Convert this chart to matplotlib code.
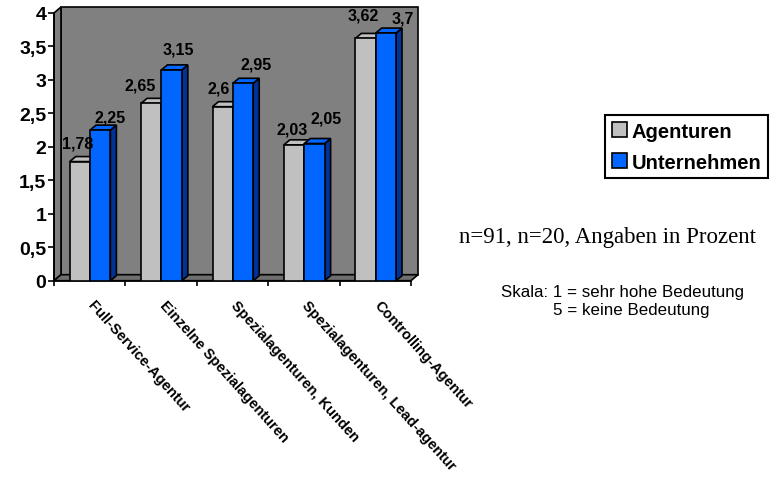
import matplotlib
matplotlib.use("Agg")
import matplotlib.pyplot as plt
from matplotlib.patches import Polygon, Patch
from matplotlib.transforms import ScaledTranslation

plt.rcParams['font.family'] = ['Liberation Sans', 'DejaVu Sans']

categories = ['Full-Service-Agentur', 'Einzelne Spezialagenturen',
              'Spezialagenturen, Kunden', 'Spezialagenturen, Lead-agentur',
              'Controlling-Agentur']
agenturen = [1.78, 2.65, 2.6, 2.03, 3.62]
unternehmen = [2.25, 3.15, 2.95, 2.05, 3.7]
series_names = ['Agenturen', 'Unternehmen']
yticks = [0, 0.5, 1, 1.5, 2, 2.5, 3, 3.5, 4]

# label nudges in pixels (x, y above bar top) so the numbers don't collide
gray_nudge = [(-2, 14), (-11, 14), (-4, 14), (-2, 11), (-2, 19)]
blue_nudge = [(10, 9), (7, 16), (13, 15), (12, 21), (17, 11)]

W, H = 771, 481
fig = plt.figure(figsize=(W / 100, H / 100), dpi=100)
fig.patch.set_facecolor('white')

ax_l, ax_b, ax_w, ax_h = 54, 481 - 281.7, 357, 267.7
ax = fig.add_axes([ax_l / W, ax_b / H, ax_w / W, ax_h / H])
ax.set_xlim(0, 5)
ax.set_ylim(0, 4)
ax.patch.set_visible(False)

# pixel -> data unit factors
px_x = 5 / ax_w
px_y = 4 / ax_h

wall = '#808080'
floor = '#6f6f6f'
gray = '#C0C0C0'
blue = '#0066FF'
blue_side = '#003399'
gray_side = '#8c8c8c'
lw = 1.2

# walls and floor, pushed back by the 3D depth
wdx, wdy = 7 * px_x, 6 * px_y
back = Polygon([(wdx, wdy), (5 + wdx, wdy), (5 + wdx, 4 + wdy), (wdx, 4 + wdy)],
               closed=True, facecolor=wall, edgecolor='black', lw=lw,
               clip_on=False, zorder=0.5)
side = Polygon([(0, 0), (wdx, wdy), (wdx, 4 + wdy), (0, 4)],
               closed=True, facecolor=wall, edgecolor='black', lw=lw,
               clip_on=False, zorder=0.6)
flr = Polygon([(0, 0), (5, 0), (5 + wdx, wdy), (wdx, wdy)],
              closed=True, facecolor=floor, edgecolor='black', lw=lw,
              clip_on=False, zorder=0.7)
for p in (back, side, flr):
    ax.add_patch(p)

bw = 0.285
bdx, bdy = 6 * px_x, 5 * px_y


def bars3d(lefts, vals, face, dark, z):
    ax.bar(lefts, vals, width=bw, align='edge', color=face,
           edgecolor='black', linewidth=lw, zorder=z + 0.2)
    for x, v in zip(lefts, vals):
        top = Polygon([(x, v), (x + bw, v), (x + bw + bdx, v + bdy), (x + bdx, v + bdy)],
                      closed=True, facecolor=face, edgecolor='black', lw=lw,
                      clip_on=False, zorder=z)
        sd = Polygon([(x + bw, 0), (x + bw + bdx, bdy), (x + bw + bdx, v + bdy), (x + bw, v)],
                     closed=True, facecolor=dark, edgecolor='black', lw=lw,
                     clip_on=False, zorder=z)
        ax.add_patch(sd)
        ax.add_patch(top)


idx = range(len(categories))
gray_left = [i + 0.22 for i in idx]
blue_left = [i + 0.22 + bw for i in idx]
bars3d(gray_left, agenturen, gray, gray_side, 3)
bars3d(blue_left, unternehmen, blue, blue_side, 4)


def fmt(v):
    return ('%g' % v).replace('.', ',')


for lefts, vals, nudges in ((gray_left, agenturen, gray_nudge),
                            (blue_left, unternehmen, blue_nudge)):
    for x, v, (nx, ny) in zip(lefts, vals, nudges):
        ax.annotate(fmt(v), (x + bw / 2, v), xytext=(nx, ny),
                    textcoords='offset pixels', ha='center', va='baseline',
                    fontsize=11.5, fontweight='bold', zorder=8,
                    annotation_clip=False)

# axes lines and ticks
for s in ('top', 'right'):
    ax.spines[s].set_visible(False)
for s in ('left', 'bottom'):
    ax.spines[s].set_linewidth(lw)
    ax.spines[s].set_zorder(1)

ax.set_yticks(yticks)
ax.set_yticklabels([fmt(t) for t in yticks], fontsize=14, fontweight='bold')
ax.tick_params(axis='y', length=4.5, width=lw, pad=1)

ax.set_xticks(range(6))
ax.set_xticklabels([])
ax.tick_params(axis='x', which='major', length=3.6, width=lw)
ax.set_xticks([i + 0.5 for i in idx], minor=True)
ax.set_xticklabels(categories, minor=True, rotation=-48, ha='left', va='top',
                   rotation_mode='anchor', fontsize=10.5, fontweight='bold')
ax.tick_params(axis='x', which='minor', length=0, pad=12)
shift = ScaledTranslation(6 / 100, 0, fig.dpi_scale_trans)
for lab in ax.get_xticklabels(minor=True):
    lab.set_transform(lab.get_transform() + shift)

handles = [Patch(facecolor=gray, edgecolor='black', lw=lw),
           Patch(facecolor=blue, edgecolor='black', lw=lw)]
leg = fig.legend(handles, series_names, loc='upper left',
                 bbox_to_anchor=(605 / W, 1 - 116 / H), borderaxespad=0,
                 fancybox=False, edgecolor='black', framealpha=1,
                 prop={'weight': 'bold', 'size': 14.5},
                 handlelength=0.75, handleheight=0.75, handletextpad=0.25,
                 borderpad=0.33, labelspacing=0.6)
leg.get_frame().set_linewidth(1.5)

fig.text(459 / W, 1 - 238 / H, 'n=91, n=20, Angaben in Prozent',
         family='Liberation Serif', fontsize=16.5, ha='left', va='center')
fig.text(501 / W, 1 - 292 / H, 'Skala: 1 = sehr hohe Bedeutung',
         fontsize=12.2, ha='left', va='center')
fig.text(553 / W, 1 - 310 / H, '5 = keine Bedeutung',
         fontsize=12.2, ha='left', va='center')

fig.savefig('out.png', dpi=100)
